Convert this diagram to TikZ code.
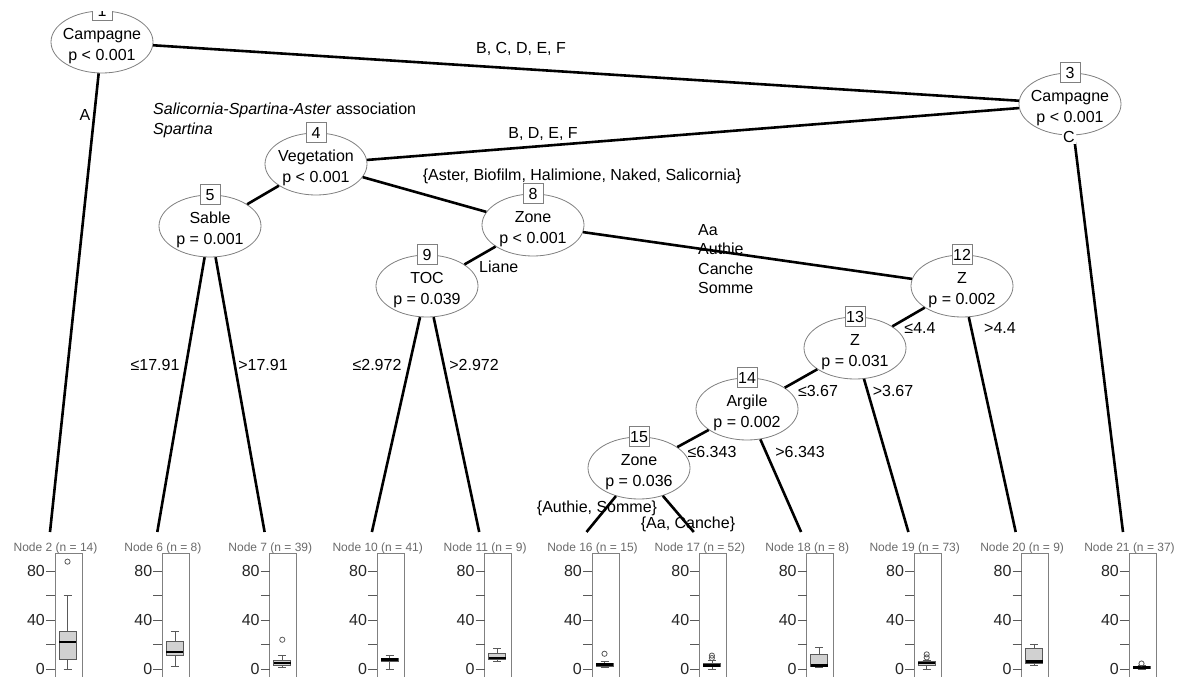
\documentclass[tikz,border=0pt]{standalone}
\usepackage{fontspec}
\setmainfont{Liberation Sans}
\usetikzlibrary{shapes.geometric}
\definecolor{ellgray}{gray}{0.5}
\definecolor{lblgray}{gray}{0.42}
\definecolor{boxfill}{gray}{0.82}
\definecolor{axgray}{gray}{0.35}
\tikzset{
  splitnode/.style={ellipse, draw=ellgray, line width=0.8pt, fill=white, minimum width=102pt, minimum height=62pt, inner sep=0pt},
  stext/.style={align=center, font=\fontsize{16}{21.5}\selectfont, inner sep=0pt, yshift=-4pt},
  numbox/.style={draw=ellgray, line width=0.8pt, fill=white, minimum width=20pt, minimum height=20pt, inner sep=0pt, font=\fontsize{16}{18}\selectfont},
  edge/.style={line width=2.6pt, black},
  elbl/.style={font=\fontsize{16}{20}\selectfont, inner sep=1pt},
  termlbl/.style={font=\fontsize{12}{14}\selectfont, text=lblgray, inner sep=0pt, anchor=base},
  frame/.style={draw=ellgray, line width=0.8pt},
  tickln/.style={draw=axgray, line width=0.8pt},
  axlbl/.style={font=\fontsize{16}{18}\selectfont, text=black!85, inner sep=1pt},
  whisk/.style={draw=axgray, line width=0.8pt},
  bxs/.style={draw=axgray, line width=0.8pt, fill=boxfill},
  medln/.style={draw=black, line width=2.6pt},
  outl/.style={draw=axgray, line width=0.8pt}
}
\newcommand{\snode}[3]{\node[splitnode, label={[stext]center:#3}] (#1) at #2 {};}
\newcommand{\bxp}[6]{%
  \pgfmathsetmacro\bxL{55+107.4*#1}%
  \pgfmathsetmacro\bxC{\bxL+12.5}%
  \pgfmathsetmacro\bxya{669-1.22*#2}%
  \pgfmathsetmacro\bxyb{669-1.22*#3}%
  \pgfmathsetmacro\bxym{669-1.22*#4}%
  \pgfmathsetmacro\bxyc{669-1.22*#5}%
  \pgfmathsetmacro\bxyd{669-1.22*#6}%
  \draw[frame] (\bxL,553) rectangle ({\bxL+27},695);
  \foreach \v in {0,20,40,60,80} {\draw[tickln] ({\bxL-9},{669-1.22*\v}) -- (\bxL,{669-1.22*\v});}
  \foreach \v in {0,40,80} {\node[axlbl, anchor=east] at ({\bxL-9},{669-1.22*\v}) {\v};}
  \draw[whisk] (\bxC,\bxya) -- (\bxC,\bxyb) (\bxC,\bxyc) -- (\bxC,\bxyd);
  \draw[whisk] ({\bxC-4},\bxya) -- ({\bxC+4},\bxya) ({\bxC-4},\bxyd) -- ({\bxC+4},\bxyd);
  \draw[bxs] ({\bxL+4},\bxyb) rectangle ({\bxL+21},\bxyc);
  \draw[medln] ({\bxL+4},\bxym) -- ({\bxL+21},\bxym);
}
\newcommand{\bxo}[2]{%
  \pgfmathsetmacro\bxL{55+107.4*#1}%
  \draw[outl] ({\bxL+12.5},{669-1.22*#2}) circle[radius=2.6pt];
}
\begin{document}
\begin{tikzpicture}[x=1pt,y=-1pt]
\useasboundingbox[fill=white] (0,0) rectangle (1186,677);

% inner nodes
\snode{n1}{(102,42)}{Campagne\\p < 0.001}
\snode{n3}{(1070,104)}{Campagne\\p < 0.001}
\snode{n4}{(316,164)}{Vegetation\\p < 0.001}
\snode{n5}{(210,226)}{Sable\\p = 0.001}
\snode{n8}{(533,225)}{Zone\\p < 0.001}
\snode{n9}{(427,286)}{TOC\\p = 0.039}
\snode{n12}{(962,286)}{Z\\p = 0.002}
\snode{n13}{(855,348)}{Z\\p = 0.031}
\snode{n14}{(747,409)}{Argile\\p = 0.002}
\snode{n15}{(639,468)}{Zone\\p = 0.036}

% terminal attachment points
\foreach \k/\i in {2/0,6/1,7/2,10/3,11/4,16/5,17/6,18/7,19/8,20/9,21/10}
  {\coordinate (t\k) at ({50+107.3*\i},532);}

% edge labels
\node[elbl] (lA) at (85,115) {A};
\node[elbl] (lBCDEF) at (521,49) {B, C, D, E, F};
\node[elbl, anchor=west, align=left, font=\fontsize{16}{20}\selectfont] (lSal) at (152,120)
  {\textit{Salicornia-Spartina-Aster} association\\\textit{Spartina}};
\node[elbl] (lBDEF) at (543,134) {B, D, E, F};
\node[elbl] (lAster) at (582,176) {\{Aster, Biofilm, Halimione, Naked, Salicornia\}};
\node[elbl, anchor=west] (lLiane) at (478,267) {Liane};
\node[elbl, anchor=west, align=left, font=\fontsize{16}{19.3}\selectfont] (lAa) at (697,259) {Aa\\Authie\\Canche\\Somme};
\node[elbl] (l5a) at (155,365) {≤17.91};
\node[elbl] (l5b) at (263,365) {>17.91};
\node[elbl] (l9a) at (377,365) {≤2.972};
\node[elbl] (l9b) at (474,365) {>2.972};
\node[elbl] (l12a) at (920,328) {≤4.4};
\node[elbl] (l12b) at (1000,328) {>4.4};
\node[elbl] (l13a) at (818,391) {≤3.67};
\node[elbl] (l13b) at (893,391) {>3.67};
\node[elbl] (l14a) at (712,452) {≤6.343};
\node[elbl] (l14b) at (800,452) {>6.343};
\node[elbl] (l15a) at (597,508) {\{Authie, Somme\}};
\node[elbl] (l15b) at (688,524) {\{Aa, Canche\}};

% edges
\draw[edge] (n1) -- (n3);
\draw[edge] (n1) -- (t2);
\draw[edge] (n3) -- (n4);
\draw[edge] (n3) -- (t21);
\draw[edge] (n4) -- (n5);
\draw[edge] (n4) -- (n8);
\draw[edge] (n5) -- (t6);
\draw[edge] (n5) -- (t7);
\draw[edge] (n8) -- (n9);
\draw[edge] (n8) -- (n12);
\draw[edge] (n9) -- (t10);
\draw[edge] (n9) -- (t11);
\draw[edge] (n12) -- (n13);
\draw[edge] (n12) -- (t20);
\draw[edge] (n13) -- (n14);
\draw[edge] (n13) -- (t19);
\draw[edge] (n14) -- (n15);
\draw[edge] (n14) -- (t18);
\draw[edge] (n15) -- (t16);
\draw[edge] (n15) -- (t17);

\node[elbl, fill=white] (lC) at (1069,137) {C};

% node number boxes
\node[numbox] (b1) at (n1.north) {1};
\node[numbox] (b3) at (n3.north) {3};
\node[numbox] (b4) at (n4.north) {4};
\node[numbox] (b5) at (n5.north) {5};
\node[numbox] (b8) at (n8.north) {8};
\node[numbox] (b9) at (n9.north) {9};
\node[numbox] (b12) at (n12.north) {12};
\node[numbox] (b13) at (n13.north) {13};
\node[numbox] (b14) at (n14.north) {14};
\node[numbox] (b15) at (n15.north) {15};
% the reference is cut at the top, hiding most of box 1
\fill[white] (85,-2) rectangle (119,11);

% terminal panels
\foreach \k/\n/\i in {2/14/0,6/8/1,7/39/2,10/41/3,11/9/4,16/15/5,17/52/6,18/8/7,19/73/8,20/9/9,21/37/10}
  {\node[termlbl] (T\k) at ({55.5+107.4*\i},551.5) {Node \k{} (n = \n)};}

\bxp{0}{0}{8}{22}{31}{60}
\bxo{0}{88}
\bxp{1}{2}{11}{14}{23}{31}
\bxp{2}{1}{3}{5}{7}{11}
\bxo{2}{24}
\bxp{3}{0}{6}{8}{9}{11}
\bxp{4}{6}{7.5}{9}{13}{17}
\bxp{5}{1}{2}{3.5}{5}{6}
\bxo{5}{12.5}
\bxp{6}{0}{2}{3}{4.5}{7}
\bxo{6}{9}
\bxo{6}{11}
\bxp{7}{1}{2}{3}{12}{18}
\bxp{8}{0}{3}{5}{6}{7}
\bxo{8}{9.5}
\bxo{8}{12}
\bxp{9}{3}{5}{6}{17}{20}
\bxp{10}{0}{0.3}{1}{2}{3}
\bxo{10}{4.5}
\end{tikzpicture}
\end{document}
